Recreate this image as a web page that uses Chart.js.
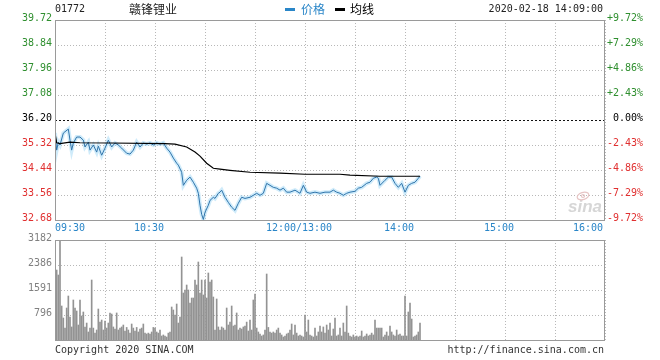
<!DOCTYPE html>
<html>
<head>
<meta charset="utf-8">
<script src="https://cdn.jsdelivr.net/npm/chart.js@4.4.1/dist/chart.umd.min.js"></script>
<style>
  html, body { margin: 0; padding: 0; background: #fff; }
  #wrap { position: relative; width: 660px; height: 360px; }
  #priceChart { position: absolute; left: 0; top: 0; }
  #volChart { position: absolute; left: 0; top: 230px; }
</style>
</head>
<body>
<div id="wrap">
  <canvas id="priceChart" width="660" height="240"></canvas>
  <canvas id="volChart" width="660" height="130"></canvas>
</div>
<script>
// 赣锋锂业 01772 分时图 2020-02-18
const prevClose = 36.20;

const priceTicks = [32.68, 33.56, 34.44, 35.32, 36.20, 37.08, 37.96, 38.84, 39.72];
const pctTicks = [-9.72, -7.29, -4.86, -2.43, 0, 2.43, 4.86, 7.29, 9.72];
const volTicks = [0, 796, 1591, 2386, 3182];

// minutes since 09:30 (12:00 and 13:00 are the same slot: 150)
const timeTicks = [0, 60, 150, 210, 270, 330];
const timeLabels = ['09:30', '10:30', '12:00/13:00', '14:00', '15:00', '16:00'];

const priceMin = [
  0, 1, 2, 3, 5, 8, 9, 10, 11, 13,
  15, 17, 18, 20, 21, 23, 25, 26, 28, 30,
  32, 34, 36, 38, 40, 43, 45, 47, 49, 51,
  53, 55, 57, 59, 61, 63, 65, 67, 69, 71,
  73, 74, 76, 77, 79, 81, 83, 85, 86, 87,
  88, 89, 90, 92, 93, 95, 96, 98, 99, 100,
  102, 104, 106, 108, 110, 112, 114, 117, 119, 121,
  123, 125, 127, 129, 131, 133, 135, 137, 139, 141,
  144, 147, 149, 151, 153, 156, 159, 162, 165, 167,
  169, 171, 173, 175, 177, 180, 182, 184, 187, 189,
  191, 193, 194, 195, 198, 200, 202, 204, 206, 208,
  210, 212, 214, 216, 218, 219
];
const priceVal = [
  35.74, 35.14, 35.42, 35.32, 35.74, 35.88, 35.49, 35.14, 35.39, 35.60,
  35.60, 35.49, 35.25, 35.42, 35.14, 35.32, 35.07, 35.28, 34.96, 35.21,
  35.49, 35.25, 35.39, 35.32, 35.21, 35.03, 35.00, 35.14, 35.42, 35.25,
  35.39, 35.35, 35.39, 35.32, 35.39, 35.35, 35.39, 35.21, 35.07, 34.86,
  34.68, 34.61, 34.36, 33.90, 34.08, 34.19, 34.01, 33.80, 33.62, 33.20,
  32.88, 32.70, 32.95, 33.20, 33.37, 33.48, 33.44, 33.62, 33.66, 33.73,
  33.48, 33.30, 33.13, 33.02, 33.27, 33.48, 33.44, 33.48, 33.55, 33.62,
  33.55, 33.62, 33.97, 33.90, 33.83, 33.80, 33.73, 33.80, 33.66, 33.66,
  33.73, 33.62, 33.90, 33.66, 33.62, 33.66, 33.62, 33.66, 33.66, 33.73,
  33.66, 33.62, 33.55, 33.62, 33.66, 33.69, 33.80, 33.83, 33.97, 34.01,
  34.15, 34.19, 34.15, 33.90, 34.08, 34.19, 34.19, 33.97, 33.83, 33.97,
  33.66, 33.90, 33.97, 34.01, 34.15, 34.22
];

const avgMin = [0, 1, 3, 9, 15, 33, 66, 72, 79, 84, 87, 91, 95, 99, 105, 117, 135, 150, 171, 177, 195, 219];
const avgVal = [35.74, 35.40, 35.37, 35.42, 35.40, 35.39, 35.37, 35.35, 35.25, 35.07, 34.93, 34.68, 34.50, 34.47, 34.43, 34.36, 34.33, 34.29, 34.29, 34.26, 34.22, 34.22];

// volume per minute, starting at minute 1
const volVal = [
  2227, 2068, 3182, 1082, 700, 380, 1018, 1400, 730, 415,
  1273, 1018, 923, 477, 1273, 764, 891, 415, 540, 255,
  380, 1909, 380, 220, 318, 986, 570, 636, 318, 605,
  380, 540, 860, 827, 415, 350, 860, 318, 380, 415,
  477, 286, 400, 318, 220, 509, 380, 286, 400, 255,
  350, 380, 509, 220, 191, 220, 191, 255, 400, 380,
  255, 220, 318, 127, 160, 127, 95, 220, 255, 1050,
  955, 795, 1145, 540, 730, 2641, 1495, 1591, 1750, 1591,
  1177, 1336, 1336, 1909, 1750, 2482, 1495, 1909, 1432, 1909,
  1336, 2132, 1845, 1909, 1368, 318, 1305, 415, 318, 415,
  380, 318, 1018, 477, 570, 1082, 445, 477, 860, 318,
  380, 350, 415, 445, 570, 286, 636, 318, 1273, 1463,
  380, 255, 191, 127, 160, 318, 2100, 400, 255, 220,
  255, 220, 318, 380, 220, 160, 95, 127, 191, 220,
  318, 509, 160, 477, 220, 127, 160, 127, 95, 795,
  255, 636, 160, 127, 95, 380, 127, 255, 445, 255,
  415, 220, 477, 318, 540, 127, 350, 700, 127, 160,
  380, 127, 540, 255, 1082, 220, 127, 95, 160, 95,
  127, 95, 127, 286, 95, 127, 191, 127, 160, 220,
  160, 636, 380, 380, 380, 380, 95, 160, 255, 127,
  445, 255, 160, 127, 318, 160, 191, 127, 127, 1400,
  127, 891, 1177, 668, 95, 127, 160, 255, 540
];

const MONO = '"DejaVu Sans Mono", monospace';
const CJK = '"Noto Sans CJK SC", sans-serif';
const GREEN = '#2f8f2f';
const RED = '#e03030';
const BLUE = '#2a86c8';
const LINE_BLUE = '#2f74ab';
const GRID = '#b8b8b8';
const FRAME = '#9a9a9a';

Chart.defaults.font.family = MONO;
Chart.defaults.font.size = 10;
Chart.defaults.animation = false;

function tickColor(v) {
    if (Math.abs(v) < 1e-9) return '#000';
    return v > 0 ? GREEN : RED;
}

function drawFrame(chart) {
    const { ctx, chartArea: a } = chart;
    ctx.save();
    ctx.strokeStyle = FRAME;
    ctx.lineWidth = 1;
    ctx.strokeRect(a.left + 0.5, a.top + 0.5, a.right - a.left - 1, a.bottom - a.top);
    ctx.restore();
}

// dotted grid, drawn at the scales' tick positions
function drawDottedGrid(chart, yScaleId) {
    const { ctx, chartArea: a } = chart;
    const xs = chart.scales.x;
    const ys = chart.scales[yScaleId];
    ctx.save();
    ctx.strokeStyle = GRID;
    ctx.lineWidth = 1;
    ctx.setLineDash([1, 2]);
    ctx.beginPath();
    xs.ticks.forEach(t => {
        const px = Math.round(xs.getPixelForValue(t.value)) + 0.5;
        ctx.moveTo(px, a.top);
        ctx.lineTo(px, a.bottom);
    });
    ys.ticks.forEach(t => {
        const py = Math.round(ys.getPixelForValue(t.value)) + 0.5;
        ctx.moveTo(a.left, py);
        ctx.lineTo(a.right, py);
    });
    ctx.stroke();
    ctx.restore();
}

const priceDecor = {
    id: 'priceDecor',
    beforeDatasetsDraw(chart) {
        drawDottedGrid(chart, 'y');
        // 昨收 dashed line
        const { ctx, chartArea: a } = chart;
        const y = Math.round(chart.scales.y.getPixelForValue(prevClose)) + 0.5;
        ctx.save();
        ctx.fillStyle = '#fff';
        ctx.fillRect(a.left + 1, y - 0.5, a.right - a.left - 2, 1);
        ctx.strokeStyle = '#111';
        ctx.setLineDash([2, 2]);
        ctx.beginPath();
        ctx.moveTo(a.left, y);
        ctx.lineTo(a.right, y);
        ctx.stroke();
        ctx.restore();
    },
    afterDraw(chart) {
        const { ctx } = chart;
        const x = chart.scales.x;
        drawFrame(chart);
        ctx.save();
        // header
        ctx.textBaseline = 'middle';
        ctx.fillStyle = '#222';
        ctx.font = '10px ' + MONO;
        ctx.textAlign = 'left';
        ctx.fillText('01772', 55, 9);
        ctx.textAlign = 'right';
        ctx.fillText('2020-02-18 14:09:00', 603, 9);
        ctx.font = '12px ' + CJK;
        ctx.textAlign = 'center';
        ctx.fillText('赣锋锂业', 153, 9);
        ctx.textAlign = 'left';
        ctx.fillStyle = BLUE;
        ctx.fillRect(285, 8, 10, 3);
        ctx.fillText('价格', 301, 9);
        ctx.fillStyle = '#000';
        ctx.fillRect(335, 8, 10, 3);
        ctx.fillText('均线', 350, 9);

        // time labels
        ctx.font = '10px ' + MONO;
        ctx.fillStyle = BLUE;
        timeTicks.forEach((t, i) => {
            const px = x.getPixelForValue(t);
            if (i === 0) {
                ctx.textAlign = 'left';
                ctx.fillText(timeLabels[i], px, 228);
            } else if (i === timeTicks.length - 1) {
                ctx.textAlign = 'right';
                ctx.fillText(timeLabels[i], px - 2, 228);
            } else {
                ctx.textAlign = 'center';
                ctx.fillText(timeLabels[i], px - 6, 228);
            }
        });

        // sina watermark
        ctx.fillStyle = '#d6d6d6';
        ctx.font = 'italic bold 17px "Liberation Sans", sans-serif';
        ctx.textAlign = 'left';
        ctx.textBaseline = 'alphabetic';
        ctx.fillText('sina', 568, 212);
        ctx.strokeStyle = '#e6c4c4';
        ctx.lineWidth = 1.2;
        ctx.beginPath();
        ctx.ellipse(583, 196, 6, 3.5, -0.3, 0, Math.PI * 2);
        ctx.stroke();
        ctx.beginPath();
        ctx.arc(583, 196, 1.5, 0, Math.PI * 2);
        ctx.stroke();
        ctx.restore();
    }
};

const volDecor = {
    id: 'volDecor',
    beforeDatasetsDraw(chart) {
        drawDottedGrid(chart, 'y');
    },
    afterDraw(chart) {
        const { ctx } = chart;
        drawFrame(chart);
        ctx.save();
        ctx.font = '10px ' + MONO;
        ctx.fillStyle = '#333';
        ctx.textBaseline = 'middle';
        ctx.textAlign = 'left';
        ctx.fillText('Copyright 2020 SINA.COM', 55, 120);
        ctx.textAlign = 'right';
        ctx.fillText('http://finance.sina.com.cn', 604, 120);
        ctx.restore();
    }
};

const xTicks30 = s => { s.ticks = Array.from({ length: 12 }, (_, i) => ({ value: i * 30 })); };

function renderPriceChart() {
    const ctx = document.getElementById('priceChart');
    const pricePts = priceMin.map((m, i) => ({ x: m, y: priceVal[i] }));
    const avgPts = avgMin.map((m, i) => ({ x: m, y: avgVal[i] }));

    new Chart(ctx, {
        type: 'line',
        data: {
            datasets: [
                {
                    label: '价格',
                    data: pricePts,
                    borderColor: LINE_BLUE,
                    borderWidth: 1,
                    pointRadius: 0,
                    tension: 0,
                    order: 2
                },
                {
                    label: 'halo',
                    data: pricePts,
                    borderColor: 'rgba(160, 215, 245, 0.5)',
                    borderWidth: 4,
                    pointRadius: 0,
                    tension: 0,
                    order: 3
                },
                {
                    label: '均线',
                    data: avgPts,
                    borderColor: '#000',
                    borderWidth: 1.2,
                    pointRadius: 0,
                    tension: 0,
                    order: 1
                }
            ]
        },
        options: {
            responsive: false,
            layout: { padding: { top: 20, left: 0, right: 0, bottom: 0 } },
            plugins: {
                legend: { display: false },
                tooltip: { enabled: false }
            },
            scales: {
                x: {
                    type: 'linear',
                    min: 0,
                    max: 330,
                    afterBuildTicks: xTicks30,
                    afterFit: s => { s.height = 20; },
                    ticks: { display: false },
                    grid: { display: false },
                    border: { display: false }
                },
                y: {
                    position: 'left',
                    min: priceTicks[0],
                    max: priceTicks[priceTicks.length - 1],
                    afterBuildTicks: s => { s.ticks = priceTicks.map(v => ({ value: v })); },
                    afterFit: s => { s.width = 55; },
                    ticks: {
                        padding: 3,
                        labelOffset: -2,
                        callback: v => v.toFixed(2),
                        color: c => tickColor(c.tick.value - prevClose)
                    },
                    grid: { display: false, drawTicks: false },
                    border: { display: false }
                },
                yp: {
                    position: 'right',
                    min: pctTicks[0],
                    max: pctTicks[pctTicks.length - 1],
                    afterBuildTicks: s => { s.ticks = pctTicks.map(v => ({ value: v })); },
                    afterFit: s => { s.width = 55; },
                    ticks: {
                        padding: 2,
                        labelOffset: -2,
                        callback: v => (v > 0 ? '+' : v < 0 ? '' : ' ') + v.toFixed(2) + '%',
                        color: c => tickColor(c.tick.value)
                    },
                    grid: { display: false, drawTicks: false },
                    border: { display: false }
                }
            }
        },
        plugins: [priceDecor]
    });
}

function renderVolumeChart() {
    const ctx = document.getElementById('volChart');
    new Chart(ctx, {
        type: 'bar',
        data: {
            datasets: [{
                label: '成交量',
                data: volVal.map((v, i) => ({ x: i + 1, y: v })),
                backgroundColor: '#939393',
                barThickness: 1
            }]
        },
        options: {
            responsive: false,
            layout: { padding: { top: 10, left: 0, right: 55, bottom: 0 } },
            plugins: {
                legend: { display: false },
                tooltip: { enabled: false }
            },
            scales: {
                x: {
                    type: 'linear',
                    min: 0,
                    max: 330,
                    offset: false,
                    afterBuildTicks: xTicks30,
                    afterFit: s => { s.height = 20; },
                    ticks: { display: false },
                    grid: { display: false },
                    border: { display: false }
                },
                y: {
                    min: 0,
                    max: volTicks[volTicks.length - 1],
                    afterBuildTicks: s => { s.ticks = volTicks.map(v => ({ value: v })); },
                    afterFit: s => { s.width = 55; },
                    ticks: {
                        padding: 3,
                        labelOffset: -2,
                        color: '#808080',
                        callback: v => (v === 0 ? '' : String(v))
                    },
                    grid: { display: false, drawTicks: false },
                    border: { display: false }
                }
            }
        },
        plugins: [volDecor]
    });
}

document.addEventListener('DOMContentLoaded', () => {
    renderPriceChart();
    renderVolumeChart();
});
</script>
</body>
</html>
